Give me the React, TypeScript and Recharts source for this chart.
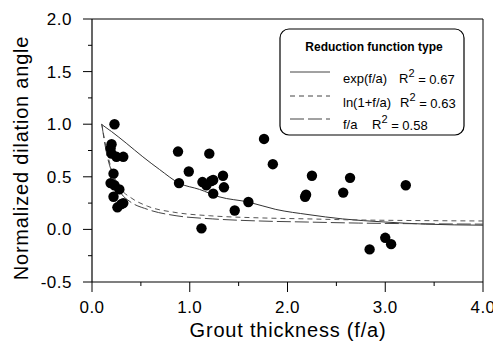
import React from 'react';
import { ComposedChart, XAxis, YAxis, Scatter, Line, ReferenceLine, Customized } from 'recharts';

const xTicks = [0, 0.5, 1, 1.5, 2, 2.5, 3, 3.5, 4];
const yTicks = [-0.5, -0.25, 0, 0.25, 0.5, 0.75, 1, 1.25, 1.5, 1.75, 2];

const pointX = [0.23, 0.2, 0.19, 0.2, 0.25, 0.32, 0.22, 0.19, 0.23, 0.28, 0.22, 0.26, 0.32, 0.3,
  0.88, 0.89, 0.99, 1.2, 1.12, 1.13, 1.17, 1.22, 1.24, 1.24, 1.34, 1.35, 1.46, 1.6, 1.76, 1.85,
  2.18, 2.19, 2.25, 2.57, 2.64, 3.21, 2.84, 3.0, 3.06];
const pointY = [1.0, 0.81, 0.77, 0.72, 0.69, 0.69, 0.53, 0.44, 0.42, 0.38, 0.31, 0.21, 0.25, 0.24,
  0.74, 0.44, 0.55, 0.72, 0.01, 0.45, 0.42, 0.46, 0.47, 0.34, 0.51, 0.4, 0.18, 0.26, 0.86, 0.62,
  0.31, 0.33, 0.51, 0.35, 0.49, 0.42, -0.19, -0.08, -0.14];

const expX = [0.095, 0.2, 0.35, 0.52, 0.69, 0.89, 1.1, 1.3, 1.6, 1.88, 2.22, 2.56, 3.0, 3.41, 4.0];
const expY = [1.0, 0.93, 0.82, 0.69, 0.57, 0.44, 0.38, 0.31, 0.26, 0.19, 0.14, 0.1, 0.07, 0.05, 0.04];

const lnX = [0.1, 0.15, 0.2, 0.3, 0.4, 0.57, 0.86, 1.2, 1.7, 2.2, 2.7, 3.2, 4.0];
const lnY = [1.0, 0.75, 0.57, 0.38, 0.3, 0.22, 0.16, 0.13, 0.11, 0.1, 0.09, 0.085, 0.08];

const faX = [0.1, 0.15, 0.2, 0.3, 0.38, 0.57, 0.86, 1.23, 1.71, 2.2, 2.73, 3.2, 4.0];
const faY = [1.0, 0.72, 0.55, 0.34, 0.27, 0.19, 0.13, 0.1, 0.08, 0.07, 0.06, 0.055, 0.05];

const legendTitle = 'Reduction function type';
const legendNames = ['exp(f/a)', 'ln(1+f/a)', 'f/a'];
const legendR2 = ['0.67', '0.63', '0.58'];

const zip = (xs: number[], ys: number[]) => xs.map((x, i) => ({ x, y: ys[i] }));
const points = zip(pointX, pointY);
const expData = zip(expX, expY);
const lnData = zip(lnX, lnY);
const faData = zip(faX, faY);

const FONT = '"Liberation Sans", Arial, sans-serif';
const isMajorX = (v: number) => Math.abs(v - Math.round(v)) < 1e-9;
const isMajorY = (v: number) => Math.abs(v * 2 - Math.round(v * 2)) < 1e-9;

const XTick = (props: any) => {
  const { x, y, payload } = props;
  const major = isMajorX(payload.value);
  return (
    <g>
      <line x1={x} x2={x} y1={y} y2={y + (major ? 10 : 4)} stroke="#000" strokeWidth={1} />
      {major && (
        <text x={x} y={y + 25} dy="0.35em" textAnchor="middle" fontSize={17} letterSpacing={0.5} fontFamily={FONT} fill="#000">
          {payload.value.toFixed(1)}
        </text>
      )}
    </g>
  );
};

const YTick = (props: any) => {
  const { x, y, payload } = props;
  const major = isMajorY(payload.value);
  return (
    <g>
      <line x1={x - (major ? 9 : 4)} x2={x} y1={y} y2={y} stroke="#000" strokeWidth={1} />
      {major && (
        <text x={x - 20} y={y} dy="0.35em" textAnchor="end" fontSize={17} letterSpacing={0.5} fontFamily={FONT} fill="#000">
          {payload.value.toFixed(1)}
        </text>
      )}
    </g>
  );
};

const Extras = () => {
  const rows = [
    { ly: 64, ty: 70, dash: undefined as string | undefined, rx: 391 },
    { ly: 88, ty: 94, dash: '5 4', rx: 392 },
    { ly: 111, ty: 116, dash: '14 4', rx: 364 },
  ];
  return (
    <g fontFamily={FONT}>
      <text x={13} y={150} transform="rotate(-90 13 150)" textAnchor="middle" dy="0.35em" fontSize={20} letterSpacing={0.8} fill="#000">
        Normalized dilation angle
      </text>
      <text x={280} y={322} textAnchor="middle" dy="0.35em" fontSize={20} letterSpacing={0.8} fill="#000">
        Grout thickness (f/a)
      </text>
      <rect x={272} y={21} width={184} height={106} rx={9} ry={9} fill="#fff" stroke="#000" strokeWidth={1.2} />
      <text x={366} y={39} textAnchor="middle" dy="0.35em" fontSize={12} fontWeight="bold" fill="#000">
        {legendTitle}
      </text>
      {rows.map((r, i) => (
        <g key={i}>
          <line x1={282} x2={322} y1={r.ly} y2={r.ly} stroke="#444" strokeWidth={1} strokeDasharray={r.dash} />
          <text x={335} y={r.ty} dy="0.35em" fontSize={13} fill="#000">{legendNames[i]}</text>
          <text x={r.rx} y={r.ty} dy="0.35em" fontSize={13} fill="#000">
            R<tspan dy="-0.55em" fontSize={11}>2</tspan><tspan dy="0.55em">{' = ' + legendR2[i]}</tspan>
          </text>
        </g>
      ))}
    </g>
  );
};

export default function App() {
  return (
    <div style={{ width: 493, height: 342 }}>
      <ComposedChart width={493} height={342} margin={{ top: 11, right: 18, bottom: 0, left: 0 }} style={{ overflow: 'visible' }}>
        <XAxis
          type="number"
          dataKey="x"
          domain={[0, 4]}
          ticks={xTicks}
          interval={0}
          height={68}
          tickSize={0}
          tickMargin={0}
          tickLine={false}
          tick={<XTick />}
          axisLine={{ stroke: '#000', strokeWidth: 1.2 }}
          allowDataOverflow
        />
        <YAxis
          type="number"
          dataKey="y"
          domain={[-0.5, 2]}
          ticks={yTicks}
          interval={0}
          width={84}
          tickSize={0}
          tickMargin={0}
          tickLine={false}
          tick={<YTick />}
          axisLine={{ stroke: '#000', strokeWidth: 1.2 }}
          allowDataOverflow
        />
        <ReferenceLine y={2} stroke="#000" strokeWidth={1} />
        <ReferenceLine x={4} stroke="#000" strokeWidth={1} />
        <Line data={expData} dataKey="y" type="monotone" stroke="#333" strokeWidth={1} dot={false} isAnimationActive={false} />
        <Line data={lnData} dataKey="y" type="monotone" stroke="#555" strokeWidth={1} strokeDasharray="5 4" dot={false} isAnimationActive={false} />
        <Line data={faData} dataKey="y" type="monotone" stroke="#444" strokeWidth={1} strokeDasharray="14 4" dot={false} isAnimationActive={false} />
        <Scatter
          data={points}
          dataKey="y"
          fill="#000"
          isAnimationActive={false}
          shape={(p: any) => <circle cx={p.cx} cy={p.cy} r={5.2} fill="#000" />}
        />
        <Customized component={Extras} />
      </ComposedChart>
    </div>
  );
}
